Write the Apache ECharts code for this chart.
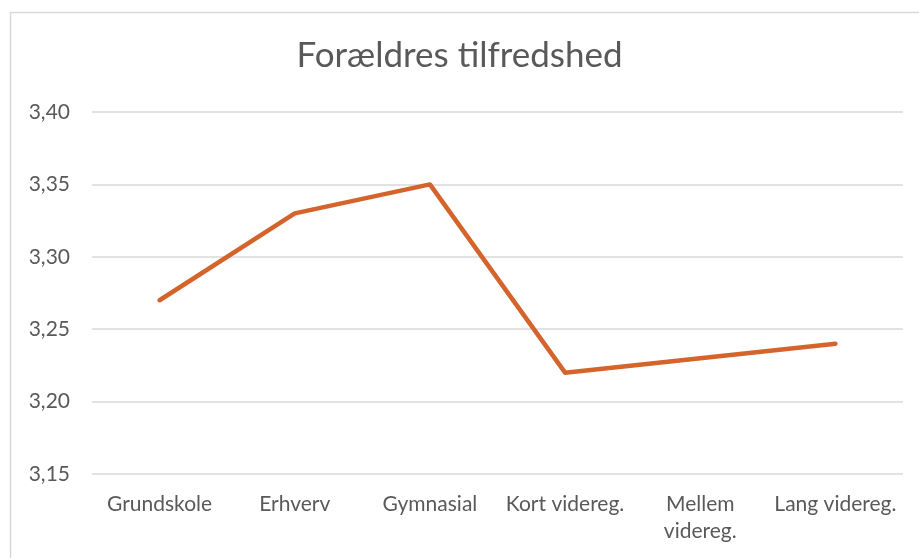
<!DOCTYPE html>
<html><head><meta charset="utf-8">
<script src="https://cdn.jsdelivr.net/npm/echarts@6/dist/echarts.min.js"></script>
<style>html,body{margin:0;padding:0;background:#fff}#c{width:919px;height:558px}</style>
</head><body><div id="c"></div>
<script>
const titleText = 'Forældres tilfredshed';
const categories = ['Grundskole', 'Erhverv', 'Gymnasial', 'Kort videreg.', 'Mellem\nvidereg.', 'Lang videreg.'];
const values = [3.27, 3.33, 3.35, 3.22, 3.23, 3.24];
const yMin = 3.15, yMax = 3.40, yStep = 0.05;

const chart = echarts.init(document.getElementById('c'));
const font = 'Lato, "Open Sans", sans-serif';
chart.setOption({
  animation: false,
  backgroundColor: '#fff',
  graphic: [{type: 'rect', shape: {x: 10.5, y: 12.5, width: 1000, height: 1000},
    style: {fill: 'none', stroke: '#D9D9D9', lineWidth: 1.5}, silent: true}],
  title: {text: titleText, left: 'center', top: 33,
    textStyle: {fontFamily: font, fontSize: 35, fontWeight: 'normal', color: '#595959'}},
  grid: {left: 92, right: 16, top: 112, bottom: 84, containLabel: false},
  xAxis: {type: 'category', data: categories, boundaryGap: true,
    axisLine: {show: false}, axisTick: {show: false},
    axisLabel: {interval: 0, margin: 17, color: '#595959', fontFamily: font, fontSize: 21, lineHeight: 27}},
  yAxis: {type: 'value', min: yMin, max: yMax, interval: yStep,
    axisLine: {show: false}, axisTick: {show: false},
    splitLine: {lineStyle: {color: '#D9D9D9', width: 1.5}},
    axisLabel: {margin: 22, color: '#595959', fontFamily: font, fontSize: 21,
      formatter: v => v.toFixed(2).replace('.', ',')}},
  series: [{type: 'line', data: values, showSymbol: false, symbol: 'none',
    lineStyle: {color: '#D4642B', width: 4.5, cap: 'round', join: 'round'}}]
});
</script></body></html>
